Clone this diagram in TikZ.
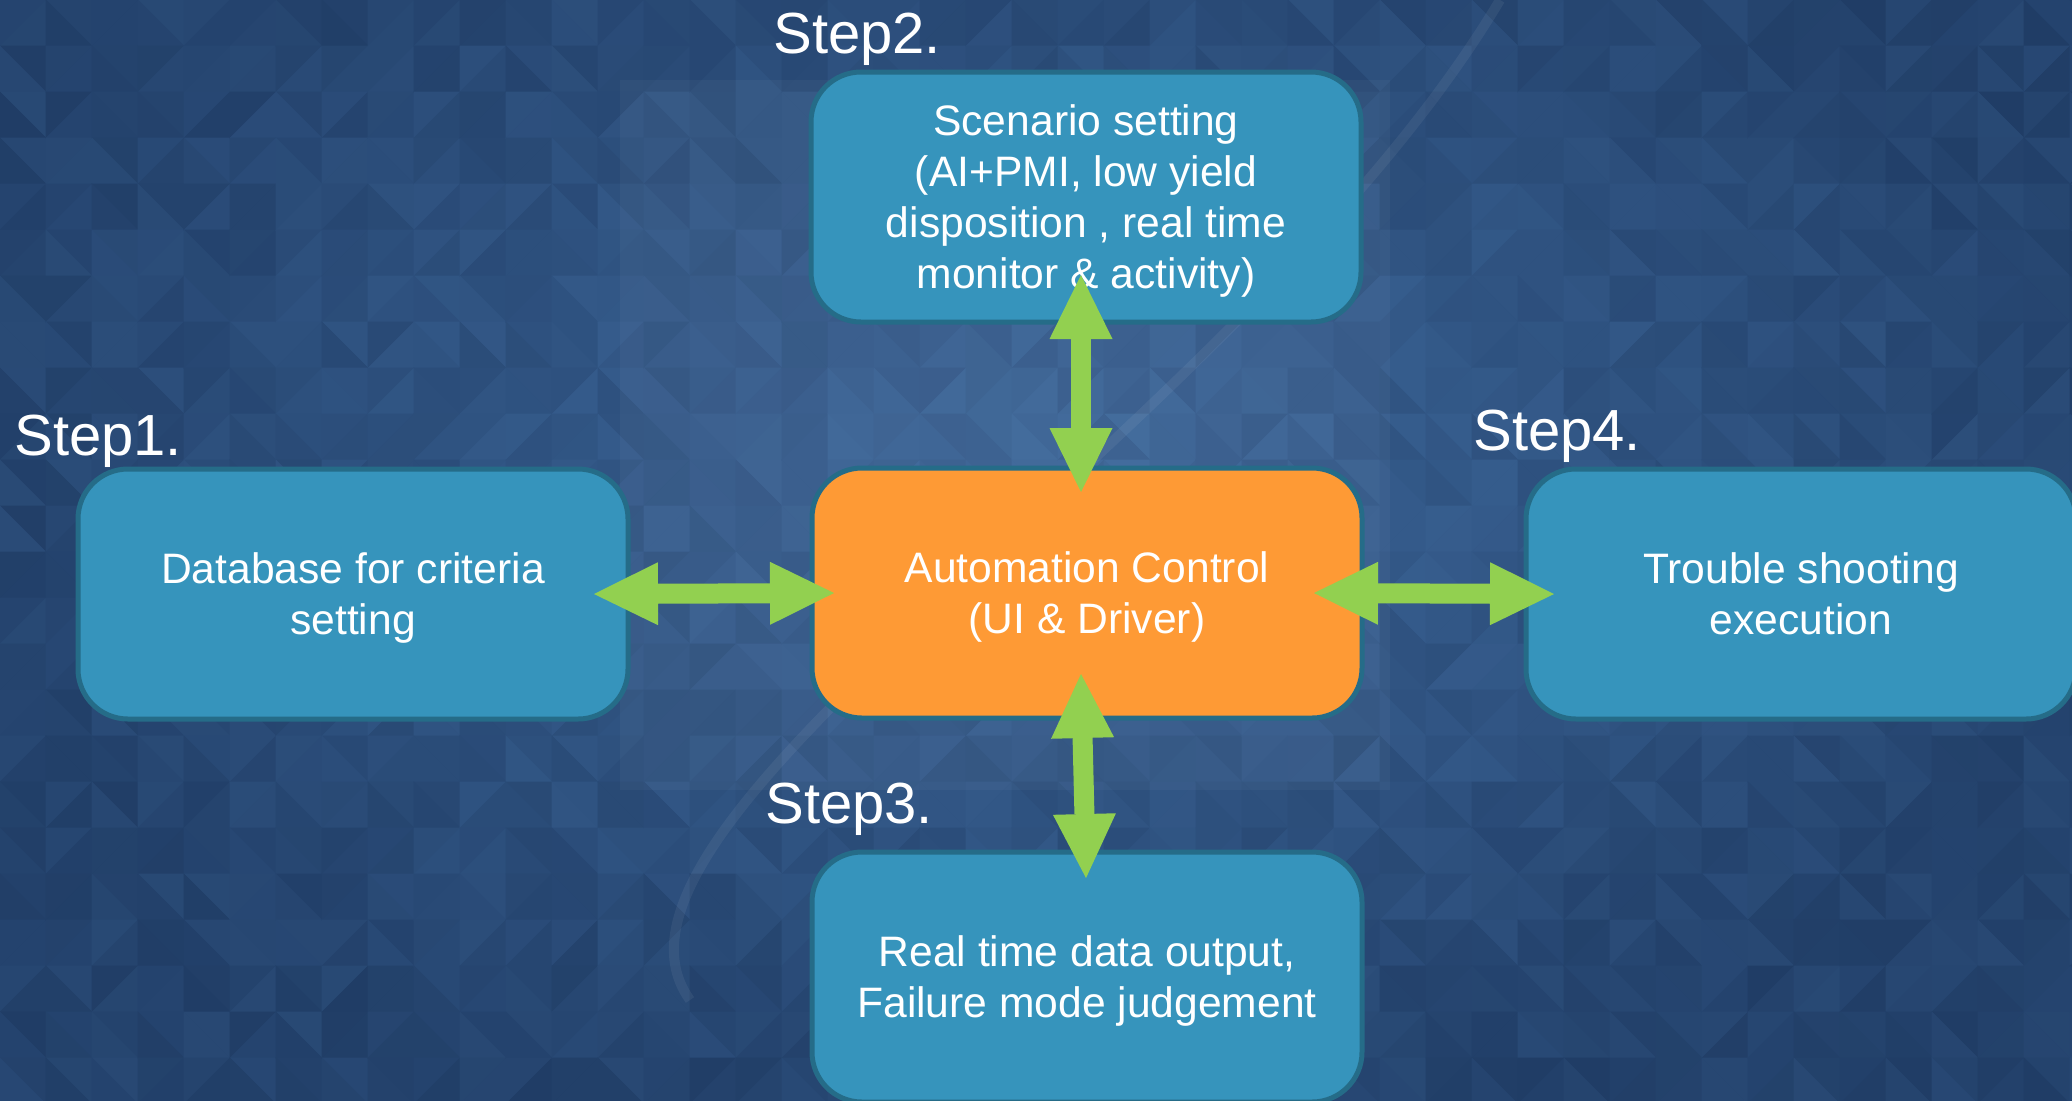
\documentclass[tikz,border=0pt]{standalone}
\usepackage{fontspec}
\setmainfont{Liberation Sans}
\usetikzlibrary{arrows.meta,calc}
\definecolor{bgdark}{HTML}{1E3A62}
\definecolor{bglight}{HTML}{4674AA}
\definecolor{boxblue}{HTML}{3694BC}
\definecolor{boxedge}{HTML}{256C88}
\definecolor{boxorange}{HTML}{FE9A35}
\definecolor{arrowgreen}{HTML}{92D050}
\newcommand{\tline}[1]{\raisebox{0pt}[17pt][2pt]{#1}}
\begin{document}
\begin{tikzpicture}[x=0.5pt,y=-0.5pt,
  stepbox/.style={draw=boxedge, line width=2.5pt, rounded corners=25pt,
    minimum width=275pt, minimum height=125pt, align=center, text=white,
    font=\fontsize{21.3}{25.6}\selectfont, inner sep=0pt, outer sep=0pt},
  bluebox/.style={stepbox, fill=boxblue},
  orangebox/.style={stepbox, fill=boxorange},
  steplabel/.style={text=white, font=\fontsize{29}{31}\selectfont,
    anchor=base west, inner sep=0pt},
  garrow/.style={draw=arrowgreen, line width=10pt,
    {Triangle[length=32pt,width=31.5pt,line width=0pt]}-{Triangle[length=32pt,width=31.5pt,line width=0pt]}},
]
% background
\useasboundingbox (0,0) rectangle (2072,1100);
\fill[bgdark] (0,0) rectangle (2072,1100);
\pgfmathsetseed{12345}
\foreach \i in {0,...,45}{
  \foreach \j in {0,...,23}{
    \pgfmathsetmacro\cx{\i*46}
    \pgfmathsetmacro\cy{\j*46}
    \pgfmathsetmacro\dist{min(1,sqrt(((\cx+23-1050)/1100)^2+((\cy+23-480)/640)^2))}
    \pgfmathtruncatemacro\pa{max(0,min(100,74-58*\dist+rnd*20-10))}
    \pgfmathtruncatemacro\pb{max(0,min(100,74-58*\dist+rnd*20-10))}
    \pgfmathrandominteger{\dg}{0}{1}
    \ifnum\dg=0
      \filldraw[fill=bglight!\pa!bgdark, draw=bglight!\pa!bgdark, line width=0.3pt]
        (\cx,\cy) -- ++(46,0) -- ++(-46,46) -- cycle;
      \filldraw[fill=bglight!\pb!bgdark, draw=bglight!\pb!bgdark, line width=0.3pt]
        (\cx+46,\cy) -- ++(0,46) -- ++(-46,0) -- cycle;
    \else
      \filldraw[fill=bglight!\pa!bgdark, draw=bglight!\pa!bgdark, line width=0.3pt]
        (\cx,\cy) -- ++(46,0) -- ++(0,46) -- cycle;
      \filldraw[fill=bglight!\pb!bgdark, draw=bglight!\pb!bgdark, line width=0.3pt]
        (\cx,\cy) -- ++(46,46) -- ++(-46,0) -- cycle;
    \fi
  }
}
\fill[white, opacity=0.035] (620,80) rectangle (1390,790);
\draw[white, opacity=0.06, line width=5pt]
  (690,1000) .. controls (560,820) and (1250,420) .. (1500,0);

% boxes
\node[bluebox] (db) at (353,594) {\tline{Database for criteria}\\\tline{setting}};
\node[orangebox] (ac) at (1087,593) {\tline{Automation Control}\\\tline{(UI \& Driver)}};
\node[bluebox] (sc) at (1086,197) {\tline{Scenario setting}\\(AI+PMI, low yield\\disposition , real time\\\tline{monitor \& activity)}};
\node[bluebox] (tr) at (1801,594) {\tline{Trouble shooting}\\\tline{execution}};
\node[bluebox] (rt) at (1087,977) {\tline{Real time data output,}\\\tline{Failure mode judgement}};

% step labels
\node[steplabel] (s1) at (14,455) {Step1.};
\node[steplabel] (s2) at (773,53) {Step2.};
\node[steplabel] (s3) at (765,823) {Step3.};
\node[steplabel] (s4) at (1473,450) {Step4.};

% arrows
\draw[garrow] ($(db.east)+(-34,0)$) -- ($(ac.west)+(22,0)$);
\draw[garrow] ($(ac.east)+(-48,0)$) -- ($(tr.west)+(28,0)$);
\draw[garrow] ($(sc.south)+(-5,-47)$) -- ($(ac.north)+(-6,24)$);
\draw[garrow] ($(ac.south)+(-6,-44)$) -- ($(rt.north)+(-1,26)$);
\end{tikzpicture}
\end{document}
